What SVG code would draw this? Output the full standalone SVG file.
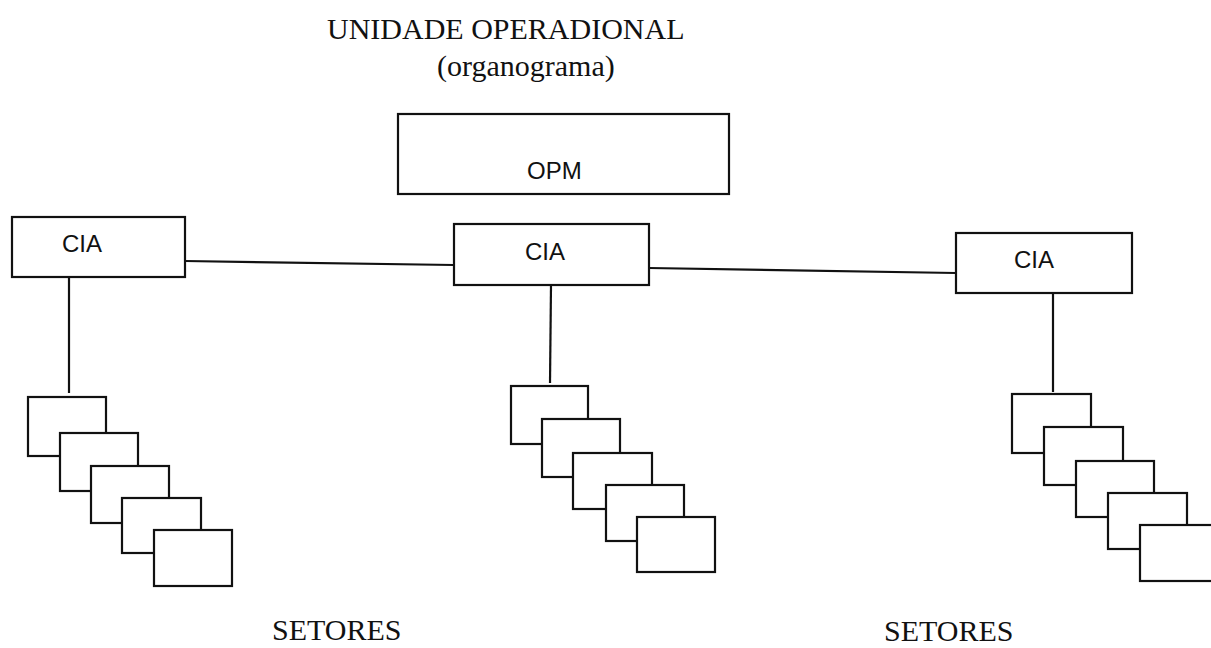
<svg xmlns="http://www.w3.org/2000/svg" width="1211" height="648" viewBox="0 0 1211 648">
<style>
.box{fill:#fff;stroke:#111;stroke-width:2.2}
.ln{stroke:#111;stroke-width:2.2;fill:none}
.lbl{font-family:"Liberation Sans",Arial,sans-serif;font-size:24px;fill:#111}
.ttl{font-family:"Liberation Serif","Times New Roman",serif;font-size:30px;fill:#111}
</style>
<rect width="1211" height="648" fill="#fff"/>
<g id="title">
<text class="ttl" x="327" y="39">UNIDADE OPERADIONAL</text>
<text class="ttl" x="437" y="76">(organograma)</text>
</g>
<g id="connectors">
<line class="ln" x1="185" y1="261" x2="454" y2="265"/>
<line class="ln" x1="649" y1="268" x2="956" y2="273"/>
<line class="ln" x1="69" y1="277" x2="69" y2="393"/>
<line class="ln" x1="551" y1="285" x2="550" y2="383"/>
<line class="ln" x1="1053" y1="293" x2="1053" y2="392"/>
</g>
<g id="opm">
<rect class="box" x="398" y="114" width="331" height="80"/>
<text class="lbl" x="527" y="179">OPM</text>
</g>
<g id="cia-left">
<rect class="box" x="12" y="217" width="173" height="60"/>
<text class="lbl" x="62" y="252">CIA</text>
</g>
<g id="cia-mid">
<rect class="box" x="454" y="224" width="195" height="61"/>
<text class="lbl" x="525" y="260">CIA</text>
</g>
<g id="cia-right">
<rect class="box" x="956" y="233" width="176" height="60"/>
<text class="lbl" x="1014" y="268">CIA</text>
</g>
<g id="setores-left">
<rect class="box" x="28" y="397" width="78" height="59"/>
<rect class="box" x="60" y="433" width="78" height="58"/>
<rect class="box" x="91" y="466" width="78" height="57"/>
<rect class="box" x="122" y="498" width="79" height="55"/>
<rect class="box" x="154" y="530" width="78" height="56"/>
</g>
<g id="setores-mid">
<rect class="box" x="511" y="386" width="77" height="58"/>
<rect class="box" x="542" y="419" width="78" height="58"/>
<rect class="box" x="573" y="453" width="79" height="56"/>
<rect class="box" x="606" y="485" width="78" height="56"/>
<rect class="box" x="637" y="517" width="78" height="55"/>
</g>
<g id="setores-right">
<rect class="box" x="1012" y="394" width="79" height="59"/>
<rect class="box" x="1044" y="427" width="79" height="58"/>
<rect class="box" x="1076" y="461" width="78" height="56"/>
<rect class="box" x="1108" y="493" width="79" height="56"/>
<rect class="box" x="1140" y="525" width="78" height="56"/>
</g>
<g id="labels">
<text class="ttl" x="272" y="640" font-size="29">SETORES</text>
<text class="ttl" x="884" y="641" font-size="29">SETORES</text>
</g>
</svg>
